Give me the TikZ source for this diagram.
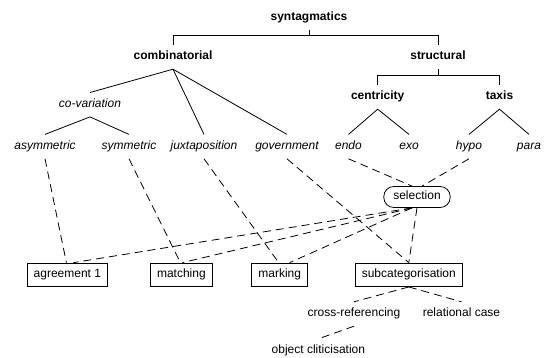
\documentclass[tikz,border=0pt]{standalone}
\usepackage{fontspec}
\setmainfont{Liberation Sans}
\begin{document}
\begin{tikzpicture}[x=1pt,y=-1pt,
  every node/.style={font=\fontsize{12}{14}\selectfont},
  lbl/.style={text height=9pt,text depth=3pt,inner ysep=6pt,inner xsep=2pt},
  cat/.style={lbl,font=\fontsize{12}{14}\selectfont\bfseries},
  sub/.style={lbl,font=\fontsize{12}{14}\selectfont\itshape},
  boxnode/.style={draw,line width=0.8pt,text height=9pt,text depth=3pt,inner ysep=5.75pt,inner xsep=6.5pt},
  selnode/.style={draw,line width=0.8pt,rounded corners=10pt,text height=9pt,text depth=3pt,inner ysep=4.5pt,inner xsep=9.5pt},
  tree/.style={line width=0.8pt},
  link/.style={line width=0.8pt,dash pattern=on 8pt off 5pt}]
\useasboundingbox (0,0) rectangle (547,358);
% nodes
\node[cat] (syn) at (309,17.4) {syntagmatics};
\node[cat] (comb) at (173,57) {combinatorial};
\node[cat] (struct) at (438,57) {structural};
\node[sub] (cov) at (90,104.7) {co-variation};
\node[cat] (centr) at (377.7,97) {centricity};
\node[cat] (taxis) at (499.5,97) {taxis};
\node[sub] (asym) at (45,146.6) {asymmetric};
\node[sub] (sym) at (129,146.6) {symmetric};
\node[sub] (juxt) at (204,146.6) {juxtaposition};
\node[sub] (gov) at (287,146.6) {government};
\node[sub] (endo) at (348.5,146.6) {endo};
\node[sub] (exo) at (409,146.6) {exo};
\node[sub] (hypo) at (469,146.6) {hypo};
\node[sub] (para) at (529,146.6) {para};
\node[selnode] (sel) at (417,197) {selection};
\node[boxnode] (agr) at (67.4,274.8) {agreement 1};
\node[boxnode] (match) at (181.4,274.8) {matching};
\node[boxnode] (mark) at (279.7,274.8) {marking};
\node[boxnode] (subcat) at (408.8,274.8) {subcategorisation};
\node[lbl] (cross) at (354,314) {cross-referencing};
\node[lbl] (rel) at (461.5,314) {relational case};
\node[lbl] (obj) at (318.4,351) {object cliticisation};
% brackets
\draw[tree] (syn.south) -- ++(0,6) coordinate (sb);
\draw[tree] (sb) -| (comb.north);
\draw[tree] (sb) -| (struct.north);
\draw[tree] (struct.south) -- ++(0,6) coordinate (tb);
\draw[tree] (tb) -| (centr.north);
\draw[tree] (tb) -| (taxis.north);
% tree lines
\draw[tree] (cov.north) -- (comb.south) -- (juxt.north);
\draw[tree] (comb.south) -- (gov.north);
\draw[tree] (asym.north) -- (cov.south) -- (sym.north);
\draw[tree] (endo.north) -- (centr.south) -- (exo.north);
\draw[tree] (hypo.north) -- (taxis.south) -- (para.north);
% dashed links
\draw[link] (asym.south) -- ([xshift=-1pt]agr.north);
\draw[link] (sym.south) -- ([xshift=-1pt]match.north);
\draw[link] (juxt.south) -- ([xshift=-1pt]mark.north);
\draw[link] (gov.south) -- (subcat.north);
\draw[link] (endo.south) -- ([xshift=-5pt]sel.north);
\draw[link] (hypo.south) -- ([xshift=5pt]sel.north);
\draw[link] ([xshift=-5pt]sel.south) -- ([xshift=6pt]agr.north);
\draw[link] ([xshift=-5pt]sel.south) -- ([xshift=1pt]match.north);
\draw[link] ([xshift=-5pt]sel.south) -- ([xshift=10pt]mark.north);
\draw[link] (sel.south) -- (subcat.north);
\draw[link] (subcat.south) -- (cross.north);
\draw[link] (subcat.south) -- (rel.north);
\draw[link] (cross.south) -- (obj.north);
\end{tikzpicture}
\end{document}
